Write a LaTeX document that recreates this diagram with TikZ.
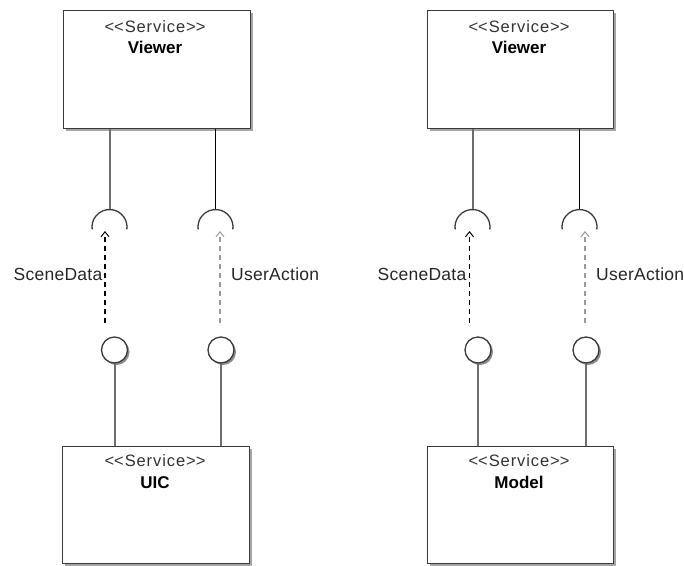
\documentclass[tikz,border=0pt]{standalone}
\usepackage{fontspec}
\setmainfont{Liberation Sans}
\newfontfamily\stereofont{Liberation Sans}[LetterSpace=5.5]
\newfontfamily\labelfont{Liberation Sans}[LetterSpace=1.5]
\usetikzlibrary{shadows,arrows.meta}

\definecolor{edge}{HTML}{3A3A3A}
\definecolor{stemgray}{HTML}{6E6E6E}
\definecolor{dashgray}{HTML}{9A9A9A}

\tikzset{
  svcbox/.style={draw=edge, line width=1.3pt, fill=white, rectangle,
    minimum width=187pt, minimum height=118pt, anchor=north west, inner sep=0pt,
    drop shadow={shadow xshift=2.2pt, shadow yshift=-2.2pt, opacity=0.35, fill=black}},
  stereotype/.style={anchor=base, inner sep=0pt, text=black!80,
    font=\stereofont\fontsize{16.5}{18}\selectfont},
  svcname/.style={anchor=base, inner sep=0pt, text=black,
    font=\fontsize{17}{19}\selectfont\bfseries},
  ball/.style={circle, draw=edge, line width=1.3pt, fill=white, minimum size=26pt, inner sep=0pt,
    drop shadow={shadow xshift=2pt, shadow yshift=-2pt, opacity=0.45, fill=black}},
  socket/.style={draw=edge, line width=1.3pt},
  stemA/.style={draw=stemgray, line width=2pt},
  stemB/.style={draw=black, line width=1.1pt},
  lowstem/.style={draw=stemgray, line width=2pt},
  dep/.style={dash pattern=on 5pt off 4pt, line width=1.2pt,
    -{Straight Barb[length=5pt,width=8pt,line width=1pt]}},
  ifacelabel/.style={font=\labelfont\fontsize{17.5}{19}\selectfont, text=black!85, inner sep=0pt},
}

\begin{document}
\begin{tikzpicture}[x=1pt,y=-1pt]
\useasboundingbox (0,0) rectangle (684,565);

% ---------- Viewer / UIC pair ----------
\node[svcbox] (viewerL) at (63,10) {};
\node[stereotype] (viewerLs) at (155,32) {<\kern0pt<Service>\kern0pt>};
\node[svcname] (viewerLn) at (155,53) {Viewer};
\node[svcbox, minimum height=117pt] (uic) at (62,446) {};
\node[stereotype] (uics) at (155,466) {<\kern0pt<Service>\kern0pt>};
\node[svcname] (uicn) at (155,488) {UIC};

\coordinate (sockLa) at (109.5,227);
\coordinate (sockLb) at (215.5,227);
\node[ball] (ballLa) at (114.5,350) {};
\node[ball] (ballLb) at (221,350) {};

\draw[stemA] (viewerL.south west -| sockLa) -- ([yshift=17.5pt]sockLa);
\draw[stemB] (viewerL.south west -| sockLb) -- ([yshift=17.5pt]sockLb);
\draw[socket] (sockLa) ++(-8:17.5pt) arc[start angle=-8, end angle=188, radius=17.5pt];
\draw[socket] (sockLb) ++(-8:17.5pt) arc[start angle=-8, end angle=188, radius=17.5pt];

\coordinate (depLaS) at (105,323);
\coordinate (depLaE) at (105,231);
\coordinate (depLbS) at (220,323);
\coordinate (depLbE) at (220,231);
\draw[dep, draw=black] (depLaS) -- (depLaE);
\draw[dep, draw=dashgray] (depLbS) -- (depLbE);

\node[ifacelabel, anchor=base east] (sdL) at (102.5,280) {SceneData};
\node[ifacelabel, anchor=base west] (uaL) at (231,280) {UserAction};

\draw[lowstem] (ballLa.south) -- (ballLa.south |- uic.north);
\draw[lowstem] (ballLb.south) -- (ballLb.south |- uic.north);

% ---------- Viewer / Model pair ----------
\node[svcbox, minimum width=186pt] (viewerR) at (427,10) {};
\node[stereotype] (viewerRs) at (519,32) {<\kern0pt<Service>\kern0pt>};
\node[svcname] (viewerRn) at (519,53) {Viewer};
\node[svcbox, minimum width=186pt, minimum height=117pt] (model) at (427,446) {};
\node[stereotype] (models) at (519,466) {<\kern0pt<Service>\kern0pt>};
\node[svcname] (modeln) at (519,488) {Model};

\coordinate (sockRa) at (472.5,227);
\coordinate (sockRb) at (579.5,227);
\node[ball] (ballRa) at (478,350) {};
\node[ball] (ballRb) at (586,350) {};

\draw[stemA] (viewerR.south west -| sockRa) -- ([yshift=17.5pt]sockRa);
\draw[stemB] (viewerR.south west -| sockRb) -- ([yshift=17.5pt]sockRb);
\draw[socket] (sockRa) ++(-8:17.5pt) arc[start angle=-8, end angle=188, radius=17.5pt];
\draw[socket] (sockRb) ++(-8:17.5pt) arc[start angle=-8, end angle=188, radius=17.5pt];

\coordinate (depRaS) at (469.5,323);
\coordinate (depRaE) at (469.5,231);
\coordinate (depRbS) at (585,323);
\coordinate (depRbE) at (585,231);
\draw[dep, draw=black] (depRaS) -- (depRaE);
\draw[dep, draw=dashgray] (depRbS) -- (depRbE);

\node[ifacelabel, anchor=base east] (sdR) at (466.5,280) {SceneData};
\node[ifacelabel, anchor=base west] (uaR) at (596,280) {UserAction};

\draw[lowstem] (ballRa.south) -- (ballRa.south |- model.north);
\draw[lowstem] (ballRb.south) -- (ballRb.south |- model.north);
\end{tikzpicture}
\end{document}
